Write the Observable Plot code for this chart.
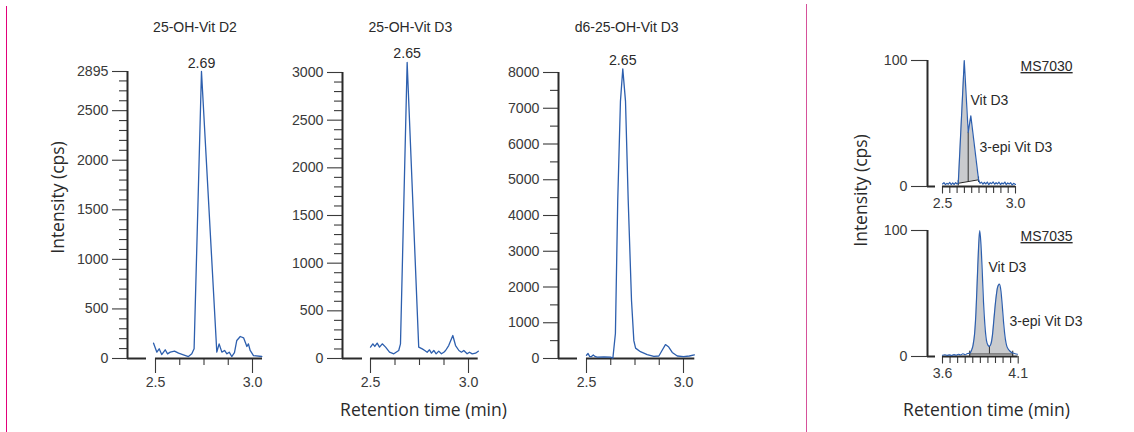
<!DOCTYPE html>
<html>
<head>
<meta charset="utf-8">
<script src="https://cdn.jsdelivr.net/npm/d3@7"></script>
<script src="https://cdn.jsdelivr.net/npm/@observablehq/plot@0.6"></script>
<style>
  html, body { margin: 0; padding: 0; background: #fff; }
  #chart { position: relative; width: 1134px; height: 432px; overflow: hidden; background: #fff; }
  .sep { position: absolute; top: 6px; bottom: 0; width: 0; }
</style>
</head>
<body>
<div id="chart">
  <div class="sep" style="left:6px;border-left:1.6px solid #e2007a;"></div>
  <div class="sep" style="left:806px;top:4px;border-left:1.6px solid #d6519a;"></div>
</div>
<script>
// ---------------- DATA ----------------
const panelTitles = ["25-OH-Vit D2", "25-OH-Vit D3", "d6-25-OH-Vit D3"];
const peakLabels = ["2.69", "2.65", "2.65"];
const yTitle = "Intensity (cps)";
const xTitle = "Retention time (min)";
const instruments = ["MS7030", "MS7035"];
const compoundLabels = ["Vit D3", "3-epi Vit D3"];

// 25-OH-Vit D2
const d2Time = [2.490, 2.507, 2.519, 2.532, 2.550, 2.562, 2.576, 2.598, 2.619, 2.644, 2.670, 2.687, 2.699, 2.737, 2.816, 2.828, 2.842, 2.856, 2.868, 2.880, 2.893, 2.907, 2.919, 2.937, 2.954, 2.971, 2.979, 2.988, 3.005, 3.048];
const d2Int  = [154, 64, 98, 40, 88, 47, 64, 74, 54, 37, 20, 47, 98, 2895, 64, 148, 64, 81, 47, 64, 20, 60, 182, 222, 209, 121, 148, 81, 30, 20];

// 25-OH-Vit D3
const d3Time = [2.500, 2.512, 2.522, 2.534, 2.546, 2.560, 2.577, 2.597, 2.619, 2.644, 2.653, 2.687, 2.746, 2.764, 2.777, 2.789, 2.801, 2.811, 2.823, 2.835, 2.848, 2.862, 2.874, 2.883, 2.899, 2.920, 2.934, 2.951, 2.964, 2.976, 2.993, 3.005, 3.019, 3.036, 3.050];
const d3Int  = [119, 154, 126, 161, 119, 154, 119, 66, 49, 84, 154, 3105, 119, 101, 84, 66, 91, 56, 84, 49, 77, 49, 66, 84, 136, 241, 136, 84, 66, 84, 49, 66, 49, 56, 77];

// d6-25-OH-Vit D3
const d6Time = [2.500, 2.508, 2.516, 2.524, 2.535, 2.543, 2.555, 2.590, 2.624, 2.636, 2.649, 2.661, 2.675, 2.687, 2.701, 2.715, 2.732, 2.744, 2.753, 2.778, 2.813, 2.847, 2.873, 2.890, 2.907, 2.924, 2.942, 2.968, 3.000, 3.030, 3.056];
const d6Int  = [90, 140, 60, 50, 100, 60, 40, 45, 40, 10, 700, 4420, 7200, 8100, 7200, 4420, 1620, 500, 290, 190, 110, 60, 70, 230, 390, 320, 170, 70, 50, 70, 100];

// MS7030 (relative intensity)
const ms30Time = [2.500, 2.510, 2.520, 2.530, 2.540, 2.550, 2.560, 2.570, 2.580, 2.590, 2.600, 2.608, 2.649, 2.676, 2.694, 2.747, 2.757, 2.767, 2.777, 2.787, 2.797, 2.807, 2.817, 2.827, 2.837, 2.847, 2.857, 2.867, 2.877, 2.887, 2.897, 2.907, 2.917, 2.927, 2.937, 2.947, 2.957, 2.967, 2.977, 2.987, 3.000];
const ms30Int  = [2.0, 3.0, 1.5, 2.5, 1.8, 3.2, 1.5, 2.8, 1.6, 3.0, 2.0, 2.6, 100, 43, 56, 5.3, 2.5, 3.5, 1.8, 3.2, 2.0, 3.5, 1.5, 3.0, 2.2, 3.6, 1.8, 3.0, 2.0, 3.4, 1.6, 2.8, 2.0, 3.5, 1.5, 2.8, 2.0, 3.0, 1.2, 2.5, 1.5];
const ms30BaseT = [2.608, 2.747];   // integration baseline end times
const ms30BaseV = [2.6, 5.3];       // integration baseline end values
const ms30Split = 2.676;            // valley drop line

// MS7035 (relative intensity)
const ms35Time = [3.600, 3.615, 3.630, 3.645, 3.660, 3.675, 3.690, 3.705, 3.720, 3.735, 3.750, 3.765, 3.780, 3.792, 3.802, 3.812, 3.821, 3.830, 3.838, 3.846, 3.854, 3.862, 3.871, 3.880, 3.890, 3.900, 3.910, 3.920, 3.930, 3.940, 3.952, 3.964, 3.976, 3.986, 3.995, 4.005, 4.015, 4.025, 4.040, 4.052, 4.064, 4.080, 4.095];
const ms35Int  = [1.0, 1.4, 0.9, 1.3, 0.8, 1.5, 1.0, 1.8, 1.2, 2.2, 1.4, 2.4, 2.5, 5, 9, 18, 35, 62, 86, 100, 89, 69, 43, 25, 13, 9, 8, 10, 17, 30, 45, 55, 57.5, 52, 40, 25, 14, 8, 5, 3.5, 2.8, 2.2, 1.8];
const ms35BaseT = [3.780, 4.064];
const ms35BaseV = [2.0, 2.0];
const ms35Split = 3.910;

// tick values
const yMajorD2 = [0, 500, 1000, 1500, 2000, 2500, 2895];
const yMinorD2 = d3.range(100, 2900, 100).filter(v => v % 500 !== 0);
const yMajorD3 = [0, 500, 1000, 1500, 2000, 2500, 3000];
const yMinorD3 = d3.range(100, 3000, 100).filter(v => v % 500 !== 0);
const yMajorD6 = [0, 1000, 2000, 3000, 4000, 5000, 6000, 7000, 8000];
const yMinorD6 = d3.range(500, 8000, 1000);
const xMajorLeft = [2.5, 3.0];
const xMinorLeft = [2.625, 2.75, 2.875];
const yMajorRel = [0, 100];
const xMajorR1 = [2.5, 3.0];
const xMinorR1 = [2.55, 2.6, 2.65, 2.7, 2.75, 2.8, 2.85, 2.9, 2.95];
const xMajorR2 = [3.6, 4.1];
const xMinorR2 = [3.65, 3.7, 3.75, 3.8, 3.85, 3.9, 3.95, 4.0, 4.05];

// ---------------- LAYOUT ----------------
const W = 1134, H = 432;
const BLUE = "#2d5fae", AXIS = "#2a2a2a", TICK = "#3a3a3a", TXT = "#2a2a2a", FILL = "#c9cbce";
const SANS = "'Liberation Sans', Arial, Helvetica, sans-serif";
const HUM = "'Open Sans', 'Noto Sans', sans-serif";
const TICKFONT = 14.2;
const svgStyle = {position: "absolute", left: "0px", top: "0px", background: "transparent", overflow: "visible", fontFamily: SANS, fontSize: "14px"};

const L1 = {axisPx: 127, stubPx: 146, t0: 2.5, t1: 3.0, t0Px: 155, t1Px: 252, endPx: 262, topPx: 71, zeroPx: 358, yMax: 2895};
const L2 = {axisPx: 342, stubPx: 362, t0: 2.5, t1: 3.0, t0Px: 370, t1Px: 468, endPx: 477.7, topPx: 72, zeroPx: 358, yMax: 3000};
const L3 = {axisPx: 558, stubPx: 577, t0: 2.5, t1: 3.0, t0Px: 586, t1Px: 683, endPx: 694.3, topPx: 72, zeroPx: 358, yMax: 8000};
const R1 = {axisPx: 927, stubPx: 935, t0: 2.5, t1: 3.0, t0Px: 942, t1Px: 1015, endPx: 1015, topPx: 60, zeroPx: 186, yMax: 100};
const R2 = {axisPx: 927, stubPx: 935, t0: 3.6, t1: 4.1, t0Px: 942, t1Px: 1017.7, endPx: 1017.7, topPx: 230, zeroPx: 356, yMax: 100};

function frameOf(L) {
  const k = (L.t1Px - L.t0Px) / (L.t1 - L.t0);
  return {
    x0: L.t0 - (L.t0Px - L.axisPx) / k,
    xStub: L.t0 - (L.t0Px - L.stubPx) / k,
    xEnd: L.t0 + (L.endPx - L.t0Px) / k
  };
}

const rows = (T, V) => T.map((t, i) => ({t, v: V[i]}));

function axisMarks(L, f, o) {
  return [
    Plot.axisY({ticks: o.yMinor || [], tickSize: o.yMinorSize || 8, tickFormat: () => "", color: TICK, strokeWidth: 1.1, label: null}),
    Plot.axisY({ticks: o.yMajor, tickSize: o.yMajorSize, tickPadding: 4, tickFormat: d => String(d), color: TICK, strokeWidth: 1.1, fontSize: TICKFONT, fontFamily: SANS, label: null}),
    Plot.axisX({ticks: o.xMinor, tickSize: o.xMinorSize, tickFormat: () => "", color: TICK, strokeWidth: 1.1, label: null}),
    Plot.axisX({ticks: o.xMajor, tickSize: o.xMajorSize, tickPadding: o.xPad, tickFormat: d3.format(".1f"), color: TICK, strokeWidth: 1.1, fontSize: TICKFONT, fontFamily: SANS, label: null}),
    Plot.ruleX([f.x0], {y1: 0, y2: L.yMax, stroke: AXIS, strokeWidth: 2}),
    Plot.ruleY([0], {x1: f.x0, x2: f.xStub, stroke: AXIS, strokeWidth: 2}),
    Plot.ruleY([0], {x1: L.t0, x2: f.xEnd, stroke: AXIS, strokeWidth: 2})
  ];
}

function plotFrame(L, f, marks) {
  return Plot.plot({
    width: W, height: H,
    marginLeft: L.axisPx, marginRight: W - L.endPx, marginTop: L.topPx, marginBottom: H - L.zeroPx,
    x: {domain: [f.x0, f.xEnd]},
    y: {domain: [0, L.yMax]},
    style: svgStyle,
    marks
  });
}

function leftPanel(L, data, yMajor, yMinor, title, peakLabel, extra) {
  const f = frameOf(L);
  const pk = d3.greatest(data, r => r.v);
  return plotFrame(L, f, [
    ...axisMarks(L, f, {yMajor, yMinor, yMajorSize: 15, yMinorSize: 8, xMajor: xMajorLeft, xMinor: xMinorLeft, xMajorSize: 15, xMinorSize: 7, xPad: 3}),
    Plot.line(data, {x: "t", y: "v", stroke: BLUE, strokeWidth: 1.3}),
    Plot.text([peakLabel], {x: pk.t, y: pk.v, text: d => d, dy: -4, lineAnchor: "bottom", fontSize: 14.2, fontFamily: SANS, fill: TXT}),
    Plot.text([title], {frameAnchor: "top", text: d => d, dy: 27 - L.topPx, lineAnchor: "middle", fontSize: 14, fontFamily: SANS, fill: TXT}),
    ...(extra || [])
  ]);
}

function rightPanel(L, data, baseT, baseV, split, xMajor, xMinor, curve, labels, instrument, extra) {
  const f = frameOf(L);
  const baseAt = t => baseV[0] + (t - baseT[0]) / (baseT[1] - baseT[0]) * (baseV[1] - baseV[0]);
  const fillRows = data.filter(r => r.t >= baseT[0] - 1e-9 && r.t <= baseT[1] + 1e-9).map(r => ({...r, b: baseAt(r.t)}));
  const splitV = data.find(r => Math.abs(r.t - split) < 1e-9).v;
  const basePts = baseT.map((t, i) => ({t, v: baseV[i]}));
  return plotFrame(L, f, [
    ...axisMarks(L, f, {yMajor: yMajorRel, yMinor: [], yMajorSize: 16, xMajor, xMinor, xMajorSize: 7.5, xMinorSize: 7, xPad: 4}),
    Plot.areaY(fillRows, {x: "t", y1: "b", y2: "v", fill: FILL, curve}),
    Plot.line(basePts, {x: "t", y: "v", stroke: "#222", strokeWidth: 1.1}),
    Plot.ruleX(basePts, {x: "t", y1: d => d.v - 2.2, y2: d => d.v + 2.2, stroke: "#222", strokeWidth: 1}),
    Plot.ruleX([split], {y1: baseAt(split), y2: splitV, stroke: "#333", strokeWidth: 1}),
    Plot.line(data, {x: "t", y: "v", stroke: BLUE, strokeWidth: 1.2, curve}),
    Plot.text(labels, {x: "t", y: "v", text: "s", textAnchor: "start", lineAnchor: "middle", fontSize: 14, fontFamily: SANS, fill: TXT}),
    Plot.text([instrument], {frameAnchor: "top-right", text: d => d, textAnchor: "start", lineAnchor: "middle", dx: 1020 - L.endPx, dy: 6, fontSize: 14, fontFamily: SANS, fill: TXT}),
    ...(extra || [])
  ]);
}

const chart = document.getElementById("chart");

const p1 = leftPanel(L1, rows(d2Time, d2Int), yMajorD2, yMinorD2, panelTitles[0], peakLabels[0], [
  Plot.text([yTitle], {frameAnchor: "left", text: d => d, rotate: -90, textAnchor: "middle", lineAnchor: "middle", dx: 58 - L1.axisPx, dy: 197 - (L1.topPx + L1.zeroPx) / 2, fontSize: 17.5, fontFamily: HUM, fill: TXT})
]);
const p2 = leftPanel(L2, rows(d3Time, d3Int), yMajorD3, yMinorD3, panelTitles[1], peakLabels[1], [
  Plot.text([xTitle], {frameAnchor: "bottom", text: d => d, textAnchor: "middle", dx: 423 - (L2.axisPx + L2.endPx) / 2, dy: 410 - L2.zeroPx, lineAnchor: "middle", fontSize: 17.5, fontFamily: HUM, fill: TXT})
]);
const p3 = leftPanel(L3, rows(d6Time, d6Int), yMajorD6, yMinorD6, panelTitles[2], peakLabels[2]);

const r1Labels = [{t: 2.692, v: 68, s: compoundLabels[0]}, {t: 2.753, v: 31, s: compoundLabels[1]}];
const r2Labels = [{t: 3.904, v: 70.6, s: compoundLabels[0]}, {t: 4.043, v: 27.8, s: compoundLabels[1]}];

const p4 = rightPanel(R1, rows(ms30Time, ms30Int), ms30BaseT, ms30BaseV, ms30Split, xMajorR1, xMinorR1, "linear", r1Labels, instruments[0], [
  Plot.text([yTitle], {frameAnchor: "left", text: d => d, rotate: -90, textAnchor: "middle", lineAnchor: "middle", dx: 861 - R1.axisPx, dy: 190 - (R1.topPx + R1.zeroPx) / 2, fontSize: 17.5, fontFamily: HUM, fill: TXT})
]);
const p5 = rightPanel(R2, rows(ms35Time, ms35Int), ms35BaseT, ms35BaseV, ms35Split, xMajorR2, xMinorR2, "monotone-x", r2Labels, instruments[1], [
  Plot.text([xTitle], {frameAnchor: "bottom", text: d => d, textAnchor: "middle", dx: 986 - (R2.axisPx + R2.endPx) / 2, dy: 410 - R2.zeroPx, lineAnchor: "middle", fontSize: 17.5, fontFamily: HUM, fill: TXT})
]);

for (const p of [p1, p2, p3, p4, p5]) chart.appendChild(p);

// underline instrument names
d3.selectAll("#chart svg text").filter(function () { return instruments.includes(this.textContent); })
  .attr("text-decoration", "underline");
</script>
</body>
</html>
